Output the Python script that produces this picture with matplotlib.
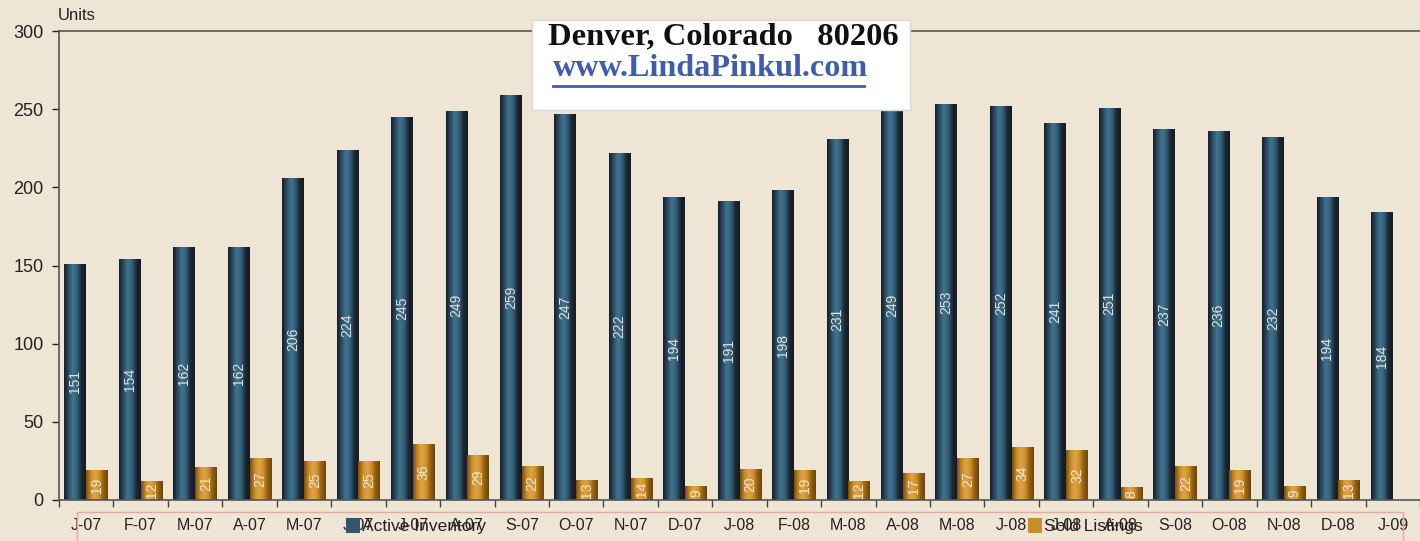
import numpy as np
import matplotlib.pyplot as plt
from matplotlib.patches import Patch, Rectangle
from matplotlib.lines import Line2D
from matplotlib.colors import LinearSegmentedColormap

plt.rcParams['font.family'] = ['Liberation Sans', 'DejaVu Sans']

months = ['J-07', 'F-07', 'M-07', 'A-07', 'M-07', 'J-07', 'J-07', 'A-07', 'S-07',
          'O-07', 'N-07', 'D-07', 'J-08', 'F-08', 'M-08', 'A-08', 'M-08', 'J-08',
          'J-08', 'A-08', 'S-08', 'O-08', 'N-08', 'D-08', 'J-09']
active_inventory = [151, 154, 162, 162, 206, 224, 245, 249, 259, 247, 222, 194, 191,
                    198, 231, 249, 253, 252, 241, 251, 237, 236, 232, 194, 184]
# last month's sold bar is cut off in the original
sold_listings = [19, 12, 21, 27, 25, 25, 36, 29, 22, 13, 14, 9, 20,
                 19, 12, 17, 27, 34, 32, 8, 22, 19, 9, 13, np.nan]

BG = '#eee5d5'
BLUE = '#2f5670'
GOLD = '#c98d2c'
blue_cmap = LinearSegmentedColormap.from_list(
    'blue', ['#161d27', '#2c4a60', '#3f7591', '#33607a', '#1d2834', '#141a22'])
gold_cmap = LinearSegmentedColormap.from_list(
    'gold', ['#7a4d10', '#c68a2a', '#e0a447', '#cf922f', '#94600f', '#6e4509'])


def shade(ax, bars, cmap):
    grad = np.linspace(0, 1, 64).reshape(1, -1)
    for b in bars:
        h = b.get_height()
        if np.isnan(h):
            continue
        x0 = b.get_x()
        im = ax.imshow(grad, extent=(x0, x0 + b.get_width(), 0, h), cmap=cmap,
                       aspect='auto', zorder=2, interpolation='bicubic')
        im.set_clip_path(b)


fig = plt.figure(figsize=(14.2, 5.41), dpi=100, facecolor=BG)
ax = fig.add_axes([59 / 1420, 41 / 541, 1361 / 1420, 469 / 541])
ax.set_facecolor(BG)

x = np.arange(len(months))
w = 0.4
bars_a = ax.bar(x - w / 2, active_inventory, w, color=BLUE, zorder=1)
bars_s = ax.bar(x + w / 2, sold_listings, w, color=GOLD, zorder=1)
shade(ax, bars_a, blue_cmap)
shade(ax, bars_s, gold_cmap)

for xi, v in zip(x, active_inventory):
    ax.text(xi - w / 2, v / 2, str(v), rotation=90, ha='center', va='center',
            color='#e6e2da', fontsize=10, zorder=4)
for xi, v in zip(x, sold_listings):
    if np.isnan(v):
        continue
    ax.text(xi + w / 2, v / 2, str(int(v)), rotation=90, ha='center', va='center',
            color='#f1e8d6', fontsize=10, zorder=4)

ax.set_xlim(-0.5, 24.21)
ax.set_ylim(0, 300)
ax.set_yticks(range(0, 301, 50))
ax.tick_params(axis='y', labelsize=13, length=5, pad=6, colors='#222', width=1)
ax.set_xticks(x, months)
ax.set_xticks(np.arange(-0.5, len(months), 1), minor=True)
ax.tick_params(axis='x', which='major', length=0, pad=13, labelsize=11.5, labelcolor='#222')
ax.tick_params(axis='x', which='minor', length=5, color='#444', width=1)

for s in ['left', 'bottom', 'top']:
    ax.spines[s].set_color('#555')
    ax.spines[s].set_linewidth(1.2)
ax.spines['right'].set_visible(False)

fig.text(58 / 1420, (541 - 16) / 541, 'Units', fontsize=12, ha='left', va='center', color='#222')

# title box
fig.add_artist(Rectangle((532 / 1420, (541 - 110) / 541), 378 / 1420, 90 / 541,
                         transform=fig.transFigure, facecolor='white',
                         edgecolor='#d8d8d8', lw=1, zorder=5))
fig.text(548 / 1420, (541 - 37) / 541, 'Denver, Colorado   80206',
         family='Liberation Serif', weight='bold', fontsize=23.4, color='#111',
         ha='left', va='center', zorder=6)
fig.text(553 / 1420, (541 - 69) / 541, 'www.LindaPinkul.com',
         family='Liberation Serif', weight='bold', fontsize=23.2, color='#3f5cae',
         ha='left', va='center', zorder=6)
fig.add_artist(Line2D([553 / 1420, 864 / 1420], [(541 - 86) / 541] * 2,
                      transform=fig.transFigure, color='#3f5cae', lw=2, zorder=6))

# legend frame and entries
fig.add_artist(Rectangle((77 / 1420, -4 / 541), 1326 / 1420, 33 / 541,
                         transform=fig.transFigure, facecolor='none',
                         edgecolor='#e3aca2', lw=1, zorder=3))
for label, color, xpos in [('Active Inventory', BLUE, 346), ('Sold Listings', GOLD, 1028)]:
    fig.legend(handles=[Patch(facecolor=color, label=label)], loc='center left',
               bbox_to_anchor=(xpos / 1420, (541 - 526) / 541), frameon=False,
               fontsize=12.5, handlelength=0.8, handleheight=1.0, handletextpad=0.15,
               borderpad=0, borderaxespad=0, labelcolor='#222')

fig.savefig('out.png', dpi=100, facecolor=BG)
